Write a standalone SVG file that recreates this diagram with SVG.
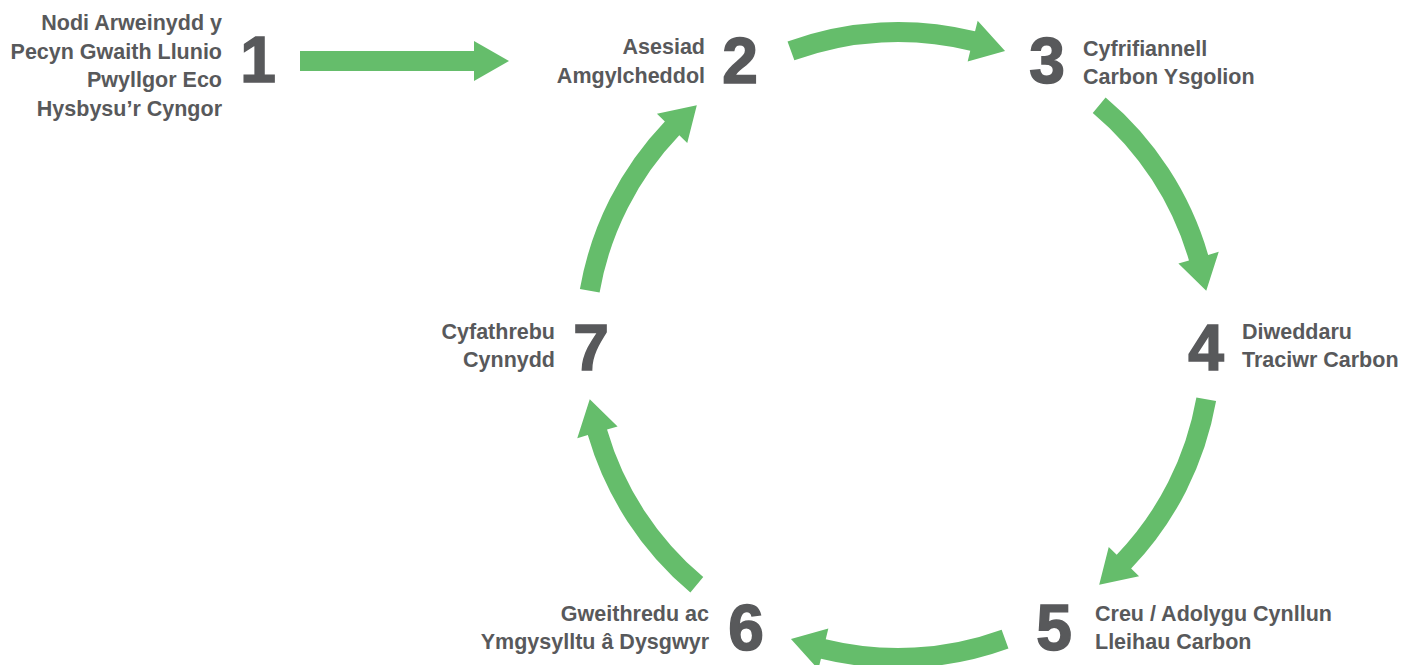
<svg xmlns="http://www.w3.org/2000/svg" width="1403" height="665" viewBox="0 0 1403 665">
<style>
.lbl{font-family:"Liberation Sans",Arial,sans-serif;font-weight:bold;font-size:21.5px;fill:#58595b}
.num{font-family:"Liberation Sans",Arial,sans-serif;font-weight:bold;font-size:64px;fill:#58595b;stroke:#58595b;stroke-width:1.6px;text-anchor:middle}
.r{text-anchor:end}
.arrow{fill:#65bd6b}
</style>
<defs>
<path id="arc" class="arrow" d="M -110.47 -303.52 A 323 323 0 0 1 77.05 -313.67 L 79.67 -324.36 L 107.05 -294.12 L 69.65 -283.57 L 72.27 -294.25 A 303 303 0 0 0 -103.63 -284.73 Z"/>
</defs>
<rect width="1403" height="665" fill="#ffffff"/>
<g id="connectors">
<path id="c1-2" class="arrow" d="M 300 51 L 474 51 L 474 41 L 509 61 L 474 81 L 474 71 L 300 71 Z"/>
<use id="c2-3" href="#arc" transform="translate(898 345)"/>
<use id="c3-4" href="#arc" transform="translate(898 345) rotate(60)"/>
<use id="c4-5" href="#arc" transform="translate(898 345) rotate(120)"/>
<use id="c5-6" href="#arc" transform="translate(898 345) rotate(180)"/>
<use id="c6-7" href="#arc" transform="translate(898 345) rotate(240)"/>
<use id="c7-2" href="#arc" transform="translate(898 345) rotate(300)"/>
</g>
<g id="node1">
<text class="num" x="258" y="82">1</text>
<text class="lbl r" x="222" y="30">Nodi Arweinydd y</text>
<text class="lbl r" x="222" y="58.5">Pecyn Gwaith Llunio</text>
<text class="lbl r" x="222" y="87">Pwyllgor Eco</text>
<text class="lbl r" x="222" y="115.5">Hysbysu’r Cyngor</text>
</g>
<g id="node2">
<text class="num" x="740" y="83">2</text>
<text class="lbl r" x="705" y="54">Asesiad</text>
<text class="lbl r" x="705" y="82.5">Amgylcheddol</text>
</g>
<g id="node3">
<text class="num" x="1047" y="83">3</text>
<text class="lbl" x="1083" y="55.5">Cyfrifiannell</text>
<text class="lbl" x="1083" y="84">Carbon Ysgolion</text>
</g>
<g id="node4">
<text class="num" x="1206" y="370">4</text>
<text class="lbl" x="1242" y="338.5">Diweddaru</text>
<text class="lbl" x="1242" y="367">Traciwr Carbon</text>
</g>
<g id="node5">
<text class="num" x="1054" y="650">5</text>
<text class="lbl" x="1095" y="620.5">Creu / Adolygu Cynllun</text>
<text class="lbl" x="1095" y="649">Lleihau Carbon</text>
</g>
<g id="node6">
<text class="num" x="746" y="650">6</text>
<text class="lbl r" x="709" y="620.5">Gweithredu ac</text>
<text class="lbl r" x="709" y="649">Ymgysylltu â Dysgwyr</text>
</g>
<g id="node7">
<text class="num" x="591" y="370">7</text>
<text class="lbl r" x="555" y="338.5">Cyfathrebu</text>
<text class="lbl r" x="555" y="367">Cynnydd</text>
</g>
</svg>
